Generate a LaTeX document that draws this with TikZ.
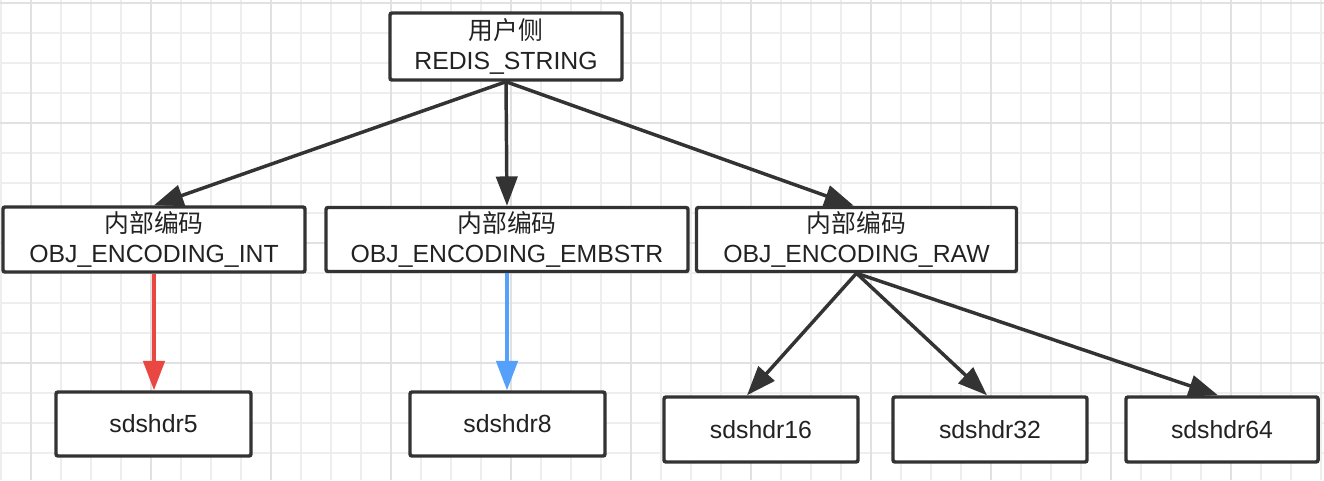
\documentclass[tikz,border=0pt]{standalone}
\usepackage{fontspec}
\setmainfont{Liberation Sans}
\newfontfamily\cjk{Noto Sans CJK SC}
\usetikzlibrary{arrows.meta}
\definecolor{boxc}{RGB}{51,51,51}
\definecolor{textc}{RGB}{34,34,34}
\definecolor{gridminor}{RGB}{238,238,238}
\definecolor{gridmajor}{RGB}{225,225,225}
\definecolor{redarr}{RGB}{234,70,66}
\definecolor{bluearr}{RGB}{84,160,250}
\tikzset{
  boxnode/.style={draw=boxc, line width=2.6pt, rounded corners=1.5pt, fill=white,
    align=center, inner sep=0pt, text=textc,
    font=\fontsize{18.6}{23}\selectfont},
  arr/.style={draw=boxc, line width=2.6pt, -{Triangle[length=22pt,width=16pt]}},
  minorline/.style={draw=gridminor, line width=0.9pt},
  majorline/.style={draw=gridmajor, line width=1.2pt}
}
\begin{document}
\begin{tikzpicture}[x=0.75pt,y=-0.75pt]
\useasboundingbox (0,0) rectangle (1324,480);
\fill[white] (0,0) rectangle (1324,480);
% grid
\foreach \x in {1,31,...,1321} \draw[minorline] (\x,0) -- (\x,480);
\foreach \y in {3,33,...,480} \draw[minorline] (0,\y) -- (1324,\y);
\foreach \x in {31,151,...,1321} \draw[majorline] (\x,0) -- (\x,480);
\foreach \y in {3,123,...,480} \draw[majorline] (0,\y) -- (1324,\y);
% nodes
\node[boxnode, minimum width=174pt, minimum height=50.25pt] (top) at (506,46.5) {{\cjk 用户侧}\\REDIS\_STRING};
\node[boxnode, minimum width=226.5pt, minimum height=48.75pt] (int) at (154,239.5) {{\cjk 内部编码}\\OBJ\_ENCODING\_INT};
\node[boxnode, minimum width=271.5pt, minimum height=48pt] (emb) at (507,239.5) {{\cjk 内部编码}\\OBJ\_ENCODING\_EMBSTR};
\node[boxnode, minimum width=240pt, minimum height=48pt] (raw) at (856.5,239.5) {{\cjk 内部编码}\\OBJ\_ENCODING\_RAW};
\node[boxnode, minimum width=146.25pt, minimum height=48pt] (s5) at (153.5,424) {sdshdr5};
\node[boxnode, minimum width=146.25pt, minimum height=48pt] (s8) at (507.5,424) {sdshdr8};
\node[boxnode, minimum width=145.5pt, minimum height=48.75pt] (s16) at (761,429.5) {sdshdr16};
\node[boxnode, minimum width=145.5pt, minimum height=48.75pt] (s32) at (990,429.5) {sdshdr32};
\node[boxnode, minimum width=144pt, minimum height=48.75pt] (s64) at (1222,429.5) {sdshdr64};
% arrows
\draw[arr] (top.south) -- (int.north);
\draw[arr] (top.south) -- (emb.north);
\draw[arr] (top.south) -- ([xshift=-2pt]raw.north);
\draw[arr, draw=redarr] (int.south) -- (int.south |- s5.north);
\draw[arr, draw=bluearr] (emb.south) -- (emb.south |- s8.north);
\draw[arr] (raw.south) -- ([xshift=-10.5pt]s16.north);
\draw[arr] (raw.south) -- ([xshift=-2.25pt]s32.north);
\draw[arr] (raw.south) -- ([xshift=-3pt]s64.north);
\end{tikzpicture}
\end{document}
